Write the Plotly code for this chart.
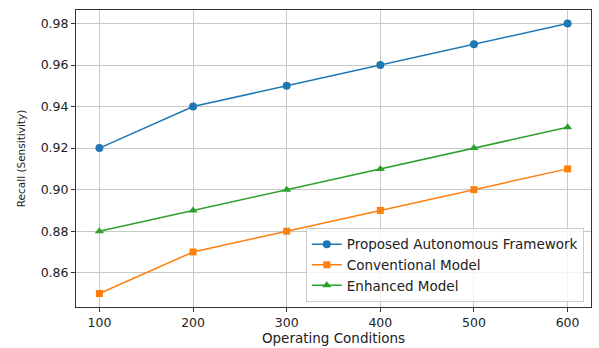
import plotly.graph_objects as go

# Operating conditions on the x axis
conditions = [100, 200, 300, 400, 500, 600]

# Recall values per model
recall_proposed = [0.92, 0.94, 0.95, 0.96, 0.97, 0.98]
recall_conventional = [0.85, 0.87, 0.88, 0.89, 0.90, 0.91]
recall_enhanced = [0.88, 0.89, 0.90, 0.91, 0.92, 0.93]

series_names = ["Proposed Autonomous Framework", "Conventional Model", "Enhanced Model"]
series_colors = ["#1f77b4", "#ff7f0e", "#2ca02c"]
series_symbols = ["circle", "square", "triangle-up"]
series_values = [recall_proposed, recall_conventional, recall_enhanced]

y_ticks = [0.86, 0.88, 0.90, 0.92, 0.94, 0.96, 0.98]

fig = go.Figure()
for name, color, symbol, values in zip(series_names, series_colors, series_symbols, series_values):
    fig.add_trace(go.Scatter(
        x=conditions, y=values, name=name, mode="lines+markers",
        line=dict(color=color, width=1.5),
        marker=dict(color=color, symbol=symbol, size=8 if symbol != "square" else 7),
    ))

font_family = "DejaVu Sans, Verdana, sans-serif"
fig.update_layout(
    width=599, height=348,
    margin=dict(l=76, r=7, t=10, b=36),
    paper_bgcolor="white", plot_bgcolor="white",
    font=dict(family=font_family, size=12, color="#222"),
    showlegend=True,
    legend=dict(
        x=0.986, y=0.017, xanchor="right", yanchor="bottom",
        bgcolor="rgba(255,255,255,0.8)", bordercolor="#cccccc", borderwidth=1,
        font=dict(size=13.5, family=font_family, color="#222"),
        tracegroupgap=0,
    ),
    xaxis=dict(
        range=[75, 625], tickvals=conditions, ticktext=[str(c) for c in conditions],
        showgrid=True, gridcolor="#c8c8c8", gridwidth=1,
        showline=True, linecolor="#333", linewidth=1, mirror=True,
        ticks="outside", ticklen=4, tickcolor="#333",
        zeroline=False,
        title=dict(text="Operating Conditions", font=dict(size=13.5), standoff=2),
        tickfont=dict(size=12.5),
    ),
    yaxis=dict(
        range=[0.8435, 0.9865], tickvals=y_ticks, ticktext=[f"{v:.2f}" for v in y_ticks],
        showgrid=True, gridcolor="#c8c8c8", gridwidth=1,
        showline=True, linecolor="#333", linewidth=1, mirror=True,
        ticks="outside", ticklen=4, tickcolor="#333",
        zeroline=False,
        title=dict(text="Recall (Sensitivity)", font=dict(size=10.5), standoff=12),
        tickfont=dict(size=12.5),
    ),
)

fig.write_html("out.html")
